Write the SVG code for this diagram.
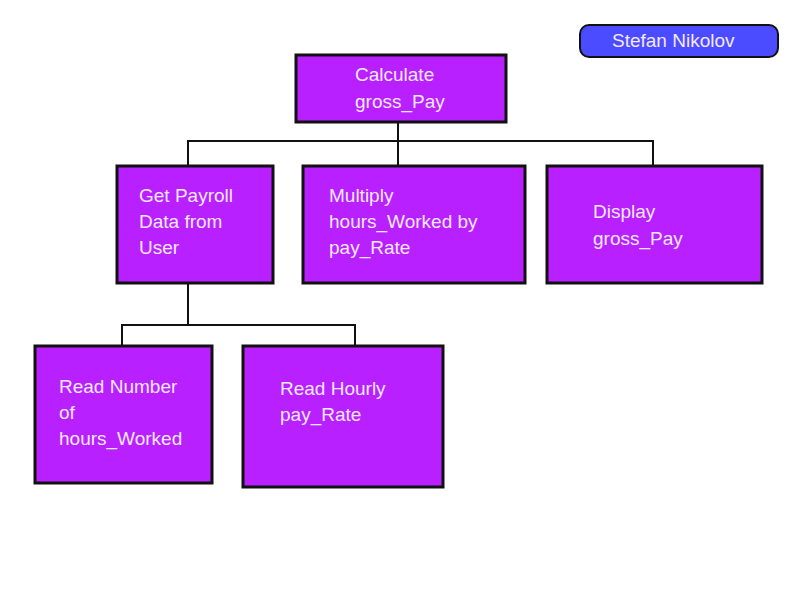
<svg xmlns="http://www.w3.org/2000/svg" width="800" height="600" viewBox="0 0 800 600">
<style>
.box{fill:#B820FF;stroke:#111;stroke-width:3}
.tag{fill:#4B4BFF;stroke:#111;stroke-width:2}
.lbl{font-family:"Liberation Sans",Arial,sans-serif;font-size:19px;fill:#F5E8FF}
.conn{fill:none;stroke:#111;stroke-width:2}
</style>
<rect width="800" height="600" fill="#fff"/>
<g id="connectors">
<path class="conn" d="M398 123V141M188 166V141H653V166M398 141V166"/>
<path class="conn" d="M188 283V325M122 346V325H355V346"/>
</g>
<g id="author">
<rect class="tag" x="580" y="25" width="198" height="32" rx="9"/>
<text class="lbl" x="612" y="47">Stefan Nikolov</text>
</g>
<g id="calc">
<rect class="box" x="296" y="55" width="210" height="67"/>
<text class="lbl" x="355" y="81">Calculate</text>
<text class="lbl" x="355" y="108">gross_Pay</text>
</g>
<g id="getdata">
<rect class="box" x="117" y="166" width="156" height="117"/>
<text class="lbl" x="139" y="202">Get Payroll</text>
<text class="lbl" x="139" y="228">Data from</text>
<text class="lbl" x="139" y="254">User</text>
</g>
<g id="multiply">
<rect class="box" x="303" y="166" width="222" height="117"/>
<text class="lbl" x="329" y="202">Multiply</text>
<text class="lbl" x="329" y="228">hours_Worked by</text>
<text class="lbl" x="329" y="254">pay_Rate</text>
</g>
<g id="display">
<rect class="box" x="547" y="166" width="215" height="117"/>
<text class="lbl" x="593" y="218">Display</text>
<text class="lbl" x="593" y="245">gross_Pay</text>
</g>
<g id="readhours">
<rect class="box" x="35" y="346" width="177" height="137"/>
<text class="lbl" x="59" y="393">Read Number</text>
<text class="lbl" x="59" y="419">of</text>
<text class="lbl" x="59" y="445">hours_Worked</text>
</g>
<g id="readrate">
<rect class="box" x="243" y="346" width="200" height="141"/>
<text class="lbl" x="280" y="395">Read Hourly</text>
<text class="lbl" x="280" y="421">pay_Rate</text>
</g>
</svg>
